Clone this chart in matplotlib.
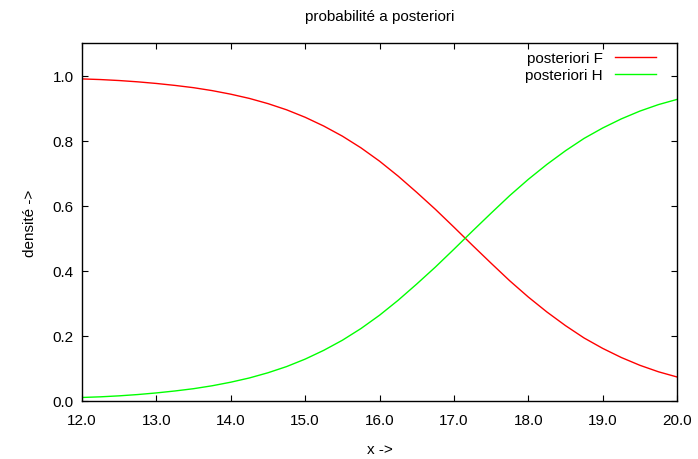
import matplotlib
matplotlib.use("Agg")
import matplotlib.pyplot as plt
from matplotlib.ticker import FormatStrFormatter

plt.rcParams["font.family"] = ["Liberation Sans", "DejaVu Sans"]
plt.rcParams["font.size"] = 11

# values
x_values = [12.0, 12.25, 12.5, 12.75, 13.0, 13.25, 13.5, 13.75, 14.0, 14.25, 14.5,
            14.75, 15.0, 15.25, 15.5, 15.75, 16.0, 16.25, 16.5, 16.75, 17.0, 17.25,
            17.5, 17.75, 18.0, 18.25, 18.5, 18.75, 19.0, 19.25, 19.5, 19.75, 20.0]
posteriori_f = [0.990, 0.988, 0.985, 0.981, 0.976, 0.970, 0.963, 0.954, 0.943, 0.930,
                0.914, 0.895, 0.872, 0.845, 0.814, 0.778, 0.737, 0.691, 0.641, 0.589,
                0.534, 0.478, 0.423, 0.369, 0.319, 0.273, 0.231, 0.193, 0.161, 0.133,
                0.109, 0.089, 0.073]
posteriori_h = [0.010, 0.012, 0.015, 0.019, 0.024, 0.030, 0.037, 0.046, 0.057, 0.070,
                0.086, 0.105, 0.128, 0.155, 0.186, 0.222, 0.263, 0.309, 0.359, 0.411,
                0.466, 0.522, 0.577, 0.631, 0.681, 0.727, 0.769, 0.807, 0.839, 0.867,
                0.891, 0.911, 0.927]

fig = plt.figure(figsize=(6.98, 4.6), dpi=100)
ax = fig.add_axes([0.1175, 0.1267, 0.8525, 0.7773])

ax.plot(x_values, posteriori_f, color="#ff0000", lw=1, label="posteriori F")
ax.plot(x_values, posteriori_h, color="#00ff00", lw=1, label="posteriori H")

ax.set_xlim(12, 20)
ax.set_ylim(0, 1.1)
ax.set_xticks([12, 13, 14, 15, 16, 17, 18, 19, 20])
ax.set_yticks([0, 0.2, 0.4, 0.6, 0.8, 1.0])
ax.xaxis.set_major_formatter(FormatStrFormatter("%.1f"))
ax.yaxis.set_major_formatter(FormatStrFormatter("%.1f"))
ax.tick_params(direction="in", length=4, width=0.8, top=True, right=True,
               labelsize=11, colors="black")
ax.tick_params(axis="x", pad=9)
ax.tick_params(axis="y", pad=6)
for s in ax.spines.values():
    s.set_linewidth(1)

ax.set_title("probabilité a posteriori", fontsize=11, pad=17)
ax.set_xlabel("x ->", fontsize=11, labelpad=11)
ax.set_ylabel("densité ->", fontsize=11, labelpad=11.5)

ax.legend(loc="upper right", frameon=False, markerfirst=False, handlelength=2.7,
          borderaxespad=0.0, bbox_to_anchor=(0.975, 0.995), labelspacing=0.22,
          fontsize=11, handletextpad=0.8)

fig.savefig("out.png", dpi=100)
